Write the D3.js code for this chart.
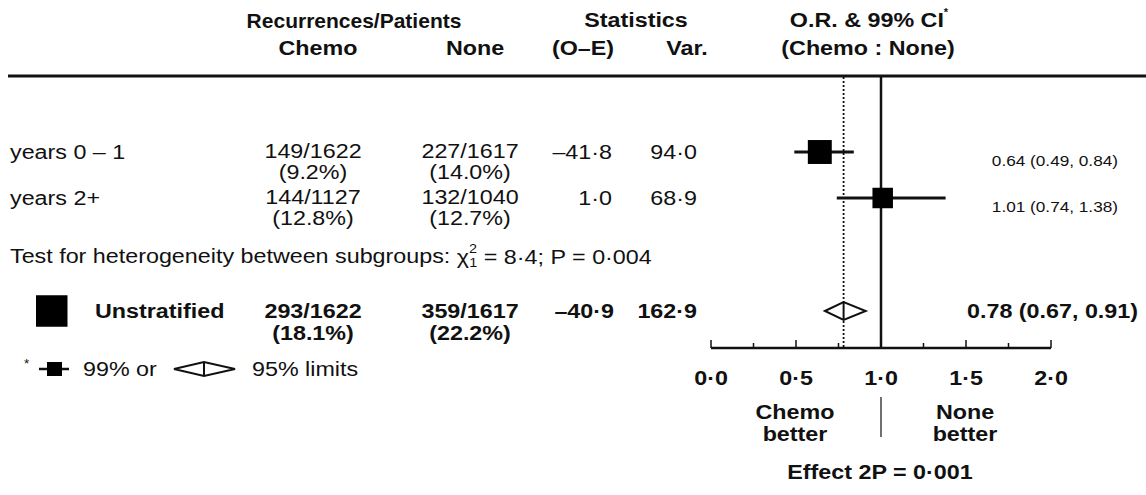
<!DOCTYPE html>
<html>
<head>
<meta charset="utf-8">
<script src="https://cdn.jsdelivr.net/npm/d3@7"></script>
<style>
  body { margin: 0; background: #fff; }
  svg text { font-family: "Liberation Sans", Arial, Helvetica, sans-serif; fill: #111; }
  .b { font-weight: bold; }
</style>
</head>
<body>
<svg id="chart" width="1146" height="495"></svg>
<script>
// data
var subgroups = ["years 0 \u2013 1", "years 2+"];
var chemoEvents = [149, 144];
var chemoPatients = [1622, 1127];
var chemoPct = [9.2, 12.8];
var noneEvents = [227, 132];
var nonePatients = [1617, 1040];
var nonePct = [14.0, 12.7];
var oMinusE = [-41.8, 1.0];
var variance = [94.0, 68.9];
var oddsRatio = [0.64, 1.01];
var ciLow = [0.49, 0.74];
var ciHigh = [0.84, 1.38];

var total = {label: "Unstratified", chemo: "293/1622", chemoPct: 18.1, none: "359/1617", nonePct: 22.2,
             oe: -40.9, v: 162.9, or: 0.78, lo: 0.67, hi: 0.91};

var axisTicks = [0, 0.5, 1, 1.5, 2];
var minorTicks = [0.25, 0.75, 1.25, 1.75];

var svg = d3.select("#chart");
var x = d3.scaleLinear().domain([0, 2]).range([711, 1051]);
var box = d3.scaleSqrt().domain([0, total.v]).range([0, 31.5]);

var SX = 1.11; // the original figure is a bit stretched sideways

var dot1 = function(v){ return d3.format(".1f")(Math.abs(v)).replace(".", "\u00b7"); };
var signed = function(v){ return (v < 0 ? "\u2013" : "") + dot1(v); };
var pct = function(v){ return "(" + d3.format(".1f")(v) + "%)"; };
var f2 = d3.format(".2f");

function txt(xp, yp, s, opts){
    opts = opts || {};
    var g = svg.append("g").attr("transform", "translate(" + xp + "," + yp + ") scale(" + (opts.sx || SX) + ",1)");
    return g.append("text")
        .attr("x", 0).attr("y", 0)
        .attr("text-anchor", opts.anchor || "start")
        .attr("dominant-baseline", "central")
        .attr("font-size", opts.size || 21)
        .classed("b", !!opts.bold)
        .text(s);
}

// header
txt(354, 20, "Recurrences/Patients", {anchor: "middle", bold: true, sx: 1.0});
txt(636, 20, "Statistics", {anchor: "middle", bold: true});
var orHead = txt(869, 20, "O.R. & 99% CI", {anchor: "middle", bold: true});
orHead.append("tspan").attr("font-size", 10).attr("dy", -8).text("*");
txt(318, 48, "Chemo", {anchor: "middle", bold: true});
txt(475, 48, "None", {anchor: "middle", bold: true});
txt(583, 48, "(O\u2013E)", {anchor: "middle", bold: true});
txt(687, 48, "Var.", {anchor: "middle", bold: true});
txt(868, 48, "(Chemo : None)", {anchor: "middle", bold: true});

svg.append("line").attr("x1", 8).attr("x2", 1146).attr("y1", 76).attr("y2", 76)
    .attr("stroke", "#111").attr("stroke-width", 3);

// reference lines
var axisY = 348;
svg.append("line").attr("x1", x(total.or)).attr("x2", x(total.or)).attr("y1", 77).attr("y2", axisY)
    .attr("stroke", "#111").attr("stroke-width", 1.8).attr("stroke-dasharray", "2,2");
svg.append("line").attr("x1", x(1)).attr("x2", x(1)).attr("y1", 77).attr("y2", axisY)
    .attr("stroke", "#111").attr("stroke-width", 2.5);

// subgroup rows
var rowY = [152, 198];
subgroups.forEach(function(name, i){
    var y = rowY[i];
    txt(10, y, name);
    txt(313, y - 1, chemoEvents[i] + "/" + chemoPatients[i], {anchor: "middle"});
    txt(313, y + 20, pct(chemoPct[i]), {anchor: "middle"});
    txt(470, y - 1, noneEvents[i] + "/" + nonePatients[i], {anchor: "middle"});
    txt(470, y + 20, pct(nonePct[i]), {anchor: "middle"});
    txt(612, y, signed(oMinusE[i]), {anchor: "end"});
    txt(697, y, dot1(variance[i]), {anchor: "end"});

    svg.append("line").attr("x1", x(ciLow[i])).attr("x2", x(ciHigh[i]))
        .attr("y1", y).attr("y2", y).attr("stroke", "#111").attr("stroke-width", 3);
    var s = box(variance[i]);
    svg.append("rect").attr("x", x(oddsRatio[i]) - s / 2).attr("y", y - s / 2)
        .attr("width", s).attr("height", s).attr("fill", "#000");

    txt(1118, y + 8, f2(oddsRatio[i]) + " (" + f2(ciLow[i]) + ", " + f2(ciHigh[i]) + ")",
        {anchor: "end", size: 15.5});
});

// heterogeneity
var het = txt(10, 256, "Test for heterogeneity between subgroups: ");
het.append("tspan").text("\u03c7");
het.append("tspan").attr("font-size", 13).attr("dy", -8).text("2");
het.append("tspan").attr("font-size", 13).attr("dx", -7).attr("dy", 14).text("1");
het.append("tspan").attr("dy", -6).text(" = 8\u00b74; P = 0\u00b7004");

// unstratified
var ty = 311;
var ts = box(total.v);
svg.append("rect").attr("x", 36).attr("y", ty - ts / 2).attr("width", ts).attr("height", ts).attr("fill", "#000");
txt(95, ty, total.label, {bold: true});
txt(313, ty, total.chemo, {anchor: "middle", bold: true});
txt(313, ty + 22, pct(total.chemoPct), {anchor: "middle", bold: true});
txt(470, ty, total.none, {anchor: "middle", bold: true});
txt(470, ty + 22, pct(total.nonePct), {anchor: "middle", bold: true});
txt(614, ty, signed(total.oe), {anchor: "end", bold: true});
txt(697, ty, dot1(total.v), {anchor: "end", bold: true});
txt(1138, ty, f2(total.or) + " (" + f2(total.lo) + ", " + f2(total.hi) + ")", {anchor: "end", bold: true});

function diamond(x0, x1, xc, y, h){
    svg.append("path")
        .attr("d", "M" + x0 + "," + y + "L" + xc + "," + (y - h) + "L" + x1 + "," + y + "L" + xc + "," + (y + h) + "Z")
        .attr("fill", "#fff").attr("stroke", "#111").attr("stroke-width", 2);
    svg.append("line").attr("x1", xc).attr("x2", xc).attr("y1", y - h).attr("y2", y + h)
        .attr("stroke", "#111").attr("stroke-width", 2);
}
diamond(x(total.lo), x(total.hi), x(total.or), ty, 9);

// legend
var ly = 369;
txt(24, ly - 5, "*", {size: 12});
svg.append("line").attr("x1", 39).attr("x2", 69).attr("y1", ly).attr("y2", ly)
    .attr("stroke", "#111").attr("stroke-width", 2.5);
svg.append("rect").attr("x", 47).attr("y", ly - 7).attr("width", 15).attr("height", 14).attr("fill", "#000");
txt(83, ly, "99% or");
diamond(174, 235, 204, ly, 7);
txt(252, ly, "95% limits");

// axis
svg.append("line").attr("x1", x(0)).attr("x2", x(2)).attr("y1", axisY).attr("y2", axisY)
    .attr("stroke", "#111").attr("stroke-width", 2.5);
svg.selectAll("line.major").data(axisTicks).enter().append("line").attr("class", "major")
    .attr("x1", function(d){ return x(d); }).attr("x2", function(d){ return x(d); })
    .attr("y1", axisY).attr("y2", axisY - 8).attr("stroke", "#111").attr("stroke-width", 1.5);
svg.selectAll("line.minor").data(minorTicks).enter().append("line").attr("class", "minor")
    .attr("x1", function(d){ return x(d); }).attr("x2", function(d){ return x(d); })
    .attr("y1", axisY).attr("y2", axisY - 5).attr("stroke", "#111").attr("stroke-width", 1.5);
axisTicks.forEach(function(d){
    txt(x(d), 378, dot1(d), {anchor: "middle", bold: true});
});

txt(795, 412, "Chemo", {anchor: "middle", bold: true});
txt(795, 434, "better", {anchor: "middle", bold: true});
txt(965, 412, "None", {anchor: "middle", bold: true});
txt(965, 434, "better", {anchor: "middle", bold: true});
svg.append("line").attr("x1", x(1)).attr("x2", x(1)).attr("y1", 397).attr("y2", 437)
    .attr("stroke", "#111").attr("stroke-width", 1.2);
txt(880, 472, "Effect 2P = 0\u00b7001", {anchor: "middle", bold: true});
</script>
</body>
</html>
